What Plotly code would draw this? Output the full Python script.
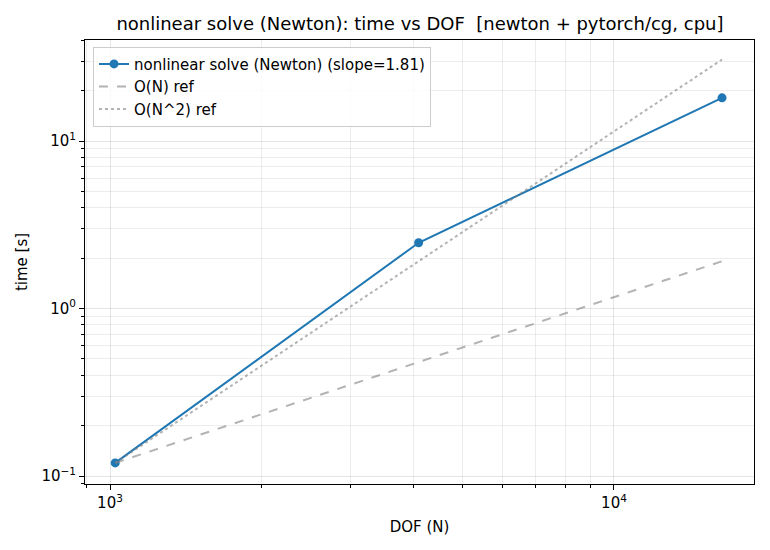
import numpy as np
import plotly.graph_objects as go

# measured points
dof = [1024, 4096, 16384]
time_s = [0.1197, 2.47, 18.1]
slope = 1.81

# reference lines anchored at first point
ref_n = [time_s[0] * d / dof[0] for d in dof]
ref_n2 = [time_s[0] * (d / dof[0]) ** 2 for d in dof]

x_major = [1e3, 1e4]
y_major = [0.1, 1, 10]
x_labels = ["10<sup>3</sup>", "10<sup>4</sup>"]
y_labels = ["10<sup>−1</sup>", "10<sup>0</sup>", "10<sup>1</sup>"]


def minor_vals(lo, hi):
    vals = []
    for e in range(lo, hi):
        for m in range(2, 10):
            vals.append(m * 10 ** e)
    return vals


fig = go.Figure()
fig.add_trace(go.Scatter(
    x=dof, y=time_s, mode="lines+markers",
    name=f"nonlinear solve (Newton) (slope={slope:.2f})",
    line=dict(color="#1f77b4", width=2),
    marker=dict(size=9, color="#1f77b4"),
))
fig.add_trace(go.Scatter(
    x=dof, y=ref_n, mode="lines", name="O(N) ref",
    line=dict(color="rgba(128,128,128,0.6)", width=2, dash="dash"),
))
fig.add_trace(go.Scatter(
    x=dof, y=ref_n2, mode="lines", name="O(N^2) ref",
    line=dict(color="rgba(128,128,128,0.6)", width=2, dash="dot"),
))

grid = "rgba(0,0,0,0.1)"
fig.update_xaxes(
    type="log", range=[np.log10(892), np.log10(18960)],
    tickvals=x_major, ticktext=x_labels,
    showgrid=True, gridcolor=grid, gridwidth=1,
    ticks="outside", ticklen=5, tickcolor="black",
    showline=True, linecolor="black", linewidth=1, mirror=True,
    zeroline=False,
    minor=dict(tickvals=minor_vals(2, 5), showgrid=True, gridcolor="rgba(0,0,0,0.07)",
               ticks="outside", ticklen=3, tickcolor="black"),
    title=dict(text="DOF (N)", font=dict(size=15), standoff=10),
)
fig.update_yaxes(
    type="log", range=[np.log10(0.0896), np.log10(40.1)],
    tickvals=y_major, ticktext=y_labels,
    showgrid=True, gridcolor=grid, gridwidth=1,
    ticks="outside", ticklen=5, tickcolor="black",
    showline=True, linecolor="black", linewidth=1, mirror=True,
    zeroline=False,
    minor=dict(tickvals=minor_vals(-2, 2), showgrid=True, gridcolor="rgba(0,0,0,0.07)",
               ticks="outside", ticklen=3, tickcolor="black"),
    title=dict(text="time [s]", font=dict(size=15), standoff=10),
)

fig.update_layout(
    width=770, height=550,
    margin=dict(l=77, r=24, t=32, b=74),
    paper_bgcolor="white", plot_bgcolor="white",
    font=dict(family="DejaVu Sans", size=15, color="black"),
    title=dict(text="nonlinear solve (Newton): time vs DOF  [newton + pytorch/cg, cpu]",
               x=0.535, xanchor="center", y=0.971, yanchor="middle",
               font=dict(size=18)),
    legend=dict(x=0.012, y=0.985, xanchor="left", yanchor="top",
                bgcolor="rgba(255,255,255,0.8)", bordercolor="#cccccc", borderwidth=1,
                font=dict(size=15), tracegroupgap=0),
    showlegend=True,
)

fig.write_html("out.html")
